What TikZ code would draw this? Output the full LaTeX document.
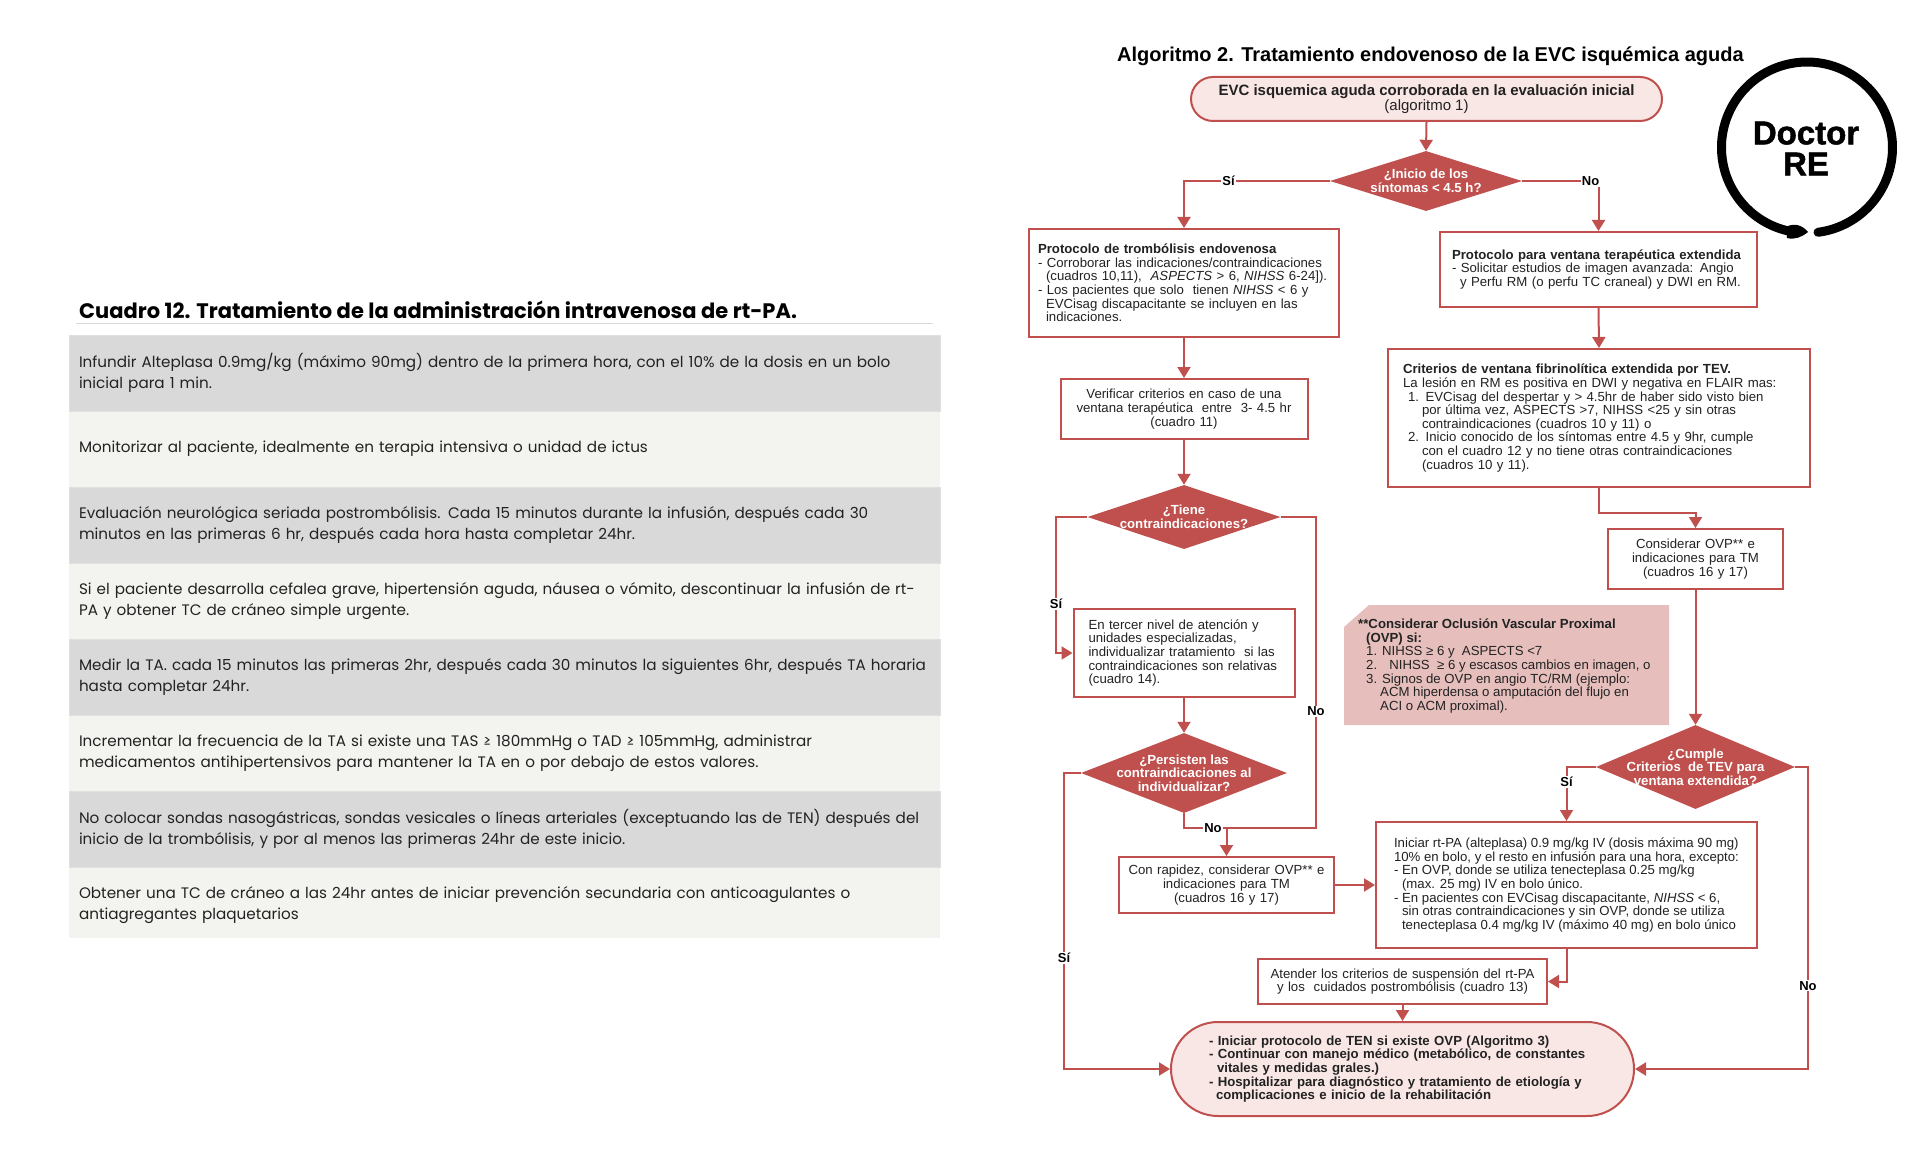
\documentclass[tikz,border=0pt]{standalone}
\usepackage{fontspec}
\setmainfont{Liberation Sans}
\newfontfamily\panelfont{Poppins}
\usetikzlibrary{arrows.meta, shapes.geometric}
\definecolor{brick}{HTML}{C0504D}
\definecolor{blush}{HTML}{F9E7E5}
\definecolor{notepink}{HTML}{E6BFBD}
\definecolor{rowdark}{HTML}{D9D9D9}
\definecolor{rowlight}{HTML}{F3F3EF}
\definecolor{inkgray}{HTML}{222222}
\tikzset{
	stepbox/.style={shape=rectangle, draw=brick, line width=2pt, fill=white, text=inkgray, align=left, inner ysep=0pt, inner xsep=12pt, font=\fontsize{13.2}{13.6}\selectfont},
	terminal/.style={stepbox, fill=blush},
	decision/.style={shape=diamond, fill=brick, inner sep=0pt},
	dectext/.style={anchor=center, align=center, inner sep=0pt, text=white, font=\bfseries\fontsize{13.2}{13.6}\selectfont},
	flow/.style={draw=brick, line width=2pt, -{Triangle[length=11pt, width=13pt]}},
	wire/.style={draw=brick, line width=2pt},
	tag/.style={fill=white, inner sep=1pt, font=\bfseries\fontsize{13}{13.6}\selectfont},
	rowbase/.style={shape=rectangle, minimum width=871pt, minimum height=76pt, inner ysep=0pt, inner xsep=10pt, text width=851pt, align=left, text=inkgray, font=\panelfont\fontsize{15.2}{21}\selectfont},
	graycell/.style={rowbase, fill=rowdark, draw=black!12, line width=.5pt},
	palecell/.style={rowbase, fill=rowlight},
	rowtext/.style={anchor=center, inner sep=0pt, text width=851pt, align=left, text=inkgray, font=\panelfont\fontsize{15.2}{21}\selectfont}
}
\begin{document}
\begin{tikzpicture}[x=1pt, y=-1pt]
	\useasboundingbox (0, 0) rectangle (1920, 1166);
	% Table on the left:
	\node[anchor=west, inner sep=0pt, text=black, font=\panelfont\bfseries\fontsize{21}{24}\selectfont] (paneltitle) at (79, 310){Cuadro 12. Tratamiento de la administración intravenosa de rt-PA.};
	\draw[line width=1pt, draw=black!15] (76, 324) -- (933, 324);
	\node[palecell] (row2) at (504.5, 449){Monitorizar al paciente, idealmente en terapia intensiva o unidad de ictus};
	\node[palecell] (row4) at (504.5, 601){Si el paciente desarrolla cefalea grave, hipertensión aguda, náusea o vómito, descontinuar la infusión de rt-\\PA y obtener TC de cráneo simple urgente.};
	\node[palecell] (row6) at (504.5, 753){Incrementar la frecuencia de la TA si existe una TAS ≥ 180mmHg o TAD ≥ 105mmHg, administrar\\medicamentos antihipertensivos para mantener la TA en o por debajo de estos valores.};
	\node[palecell, minimum height=71pt] (row8) at (504.5, 902.5){} node[rowtext] (row8txt) at (504.5, 905.5){Obtener una TC de cráneo a las 24hr antes de iniciar prevención secundaria con anticoagulantes o\\antiagregantes plaquetarios};
	\node[graycell] (row1) at (504.5, 373){Infundir Alteplasa 0.9mg/kg (máximo 90mg) dentro de la primera hora, con el 10\% de la dosis en un bolo\\inicial para 1 min.};
	\node[graycell] (row3) at (504.5, 525){Evaluación neurológica seriada postrombólisis. Cada 15 minutos durante la infusión, después cada 30\\minutos en las primeras 6 hr, después cada hora hasta completar 24hr.};
	\node[graycell] (row5) at (504.5, 677){Medir la TA. cada 15 minutos las primeras 2hr, después cada 30 minutos la siguientes 6hr, después TA horaria\\hasta completar 24hr.};
	\node[graycell] (row7) at (504.5, 829){No colocar sondas nasogástricas, sondas vesicales o líneas arteriales (exceptuando las de TEN) después del\\inicio de la trombólisis, y por al menos las primeras 24hr de este inicio.};
	% Logo:
	\draw[line width=9pt, line cap=round, draw=black] (1818, 232.3) arc[start angle=82.6, delta angle=-341.6, radius=85.5];
	\fill[black] (1786, 227) .. controls (1795, 222) and (1803, 226) .. (1808, 232) .. controls (1802, 237) and (1795, 240) .. (1787, 238) -- cycle;
	\node[inner sep=0pt, align=center, font=\bfseries\fontsize{33}{31}\selectfont\addfontfeature{FakeBold=1.5}] (logotext) at (1806, 148.5){Doctor\\RE};
	% Flow chart, nodes:
	\node[anchor=west, inner sep=0pt, font=\bfseries\fontsize{20}{22}\selectfont] (charttitle) at (1117, 56){Algoritmo 2. Tratamiento endovenoso de la EVC isquémica aguda};
	\node[terminal, rounded corners=22pt, minimum width=471pt, minimum height=44pt, align=center, font=\fontsize{15}{15}\selectfont] (start) at (1426.5, 99){\textbf{EVC isquemica aguda corroborada en la evaluación inicial}\\(algoritmo 1)};
	\node[decision, minimum width=192pt, minimum height=60pt] (dec1) at (1426, 181){} node[dectext] (dec1txt) at (1426, 181){¿Inicio de los\\síntomas < 4.5 h?};
	\node[stepbox, inner xsep=9pt, text width=292pt, minimum height=108pt] (box1) at (1184, 283){\textbf{Protocolo de trombólisis endovenosa}\\- Corroborar las indicaciones/contraindicaciones\\\hspace*{8pt}(cuadros 10,11), \ \textit{ASPECTS} > 6, \textit{NIHSS} 6-24]).\\- Los pacientes que solo \ tienen \textit{NIHSS} < 6 y\\\hspace*{8pt}EVCisag discapacitante se incluyen en las\\\hspace*{8pt}indicaciones.};
	\node[stepbox, text width=293pt, minimum height=75pt] (box2) at (1598.5, 269.5){\textbf{Protocolo para ventana terapéutica extendida}\\- Solicitar estudios de imagen avanzada: Angio\\\hspace*{8pt}y Perfu RM (o perfu TC craneal) y DWI en RM.};
	\node[stepbox, inner xsep=15pt, text width=392pt, minimum height=138pt] (box3) at (1599, 418){\textbf{Criterios de ventana fibrinolítica extendida por TEV.}\\La lesión en RM es positiva en DWI y negativa en FLAIR mas:\\\hspace*{5pt}1. EVCisag del despertar y > 4.5hr de haber sido visto bien\\\hspace*{19pt}por última vez, ASPECTS >7, NIHSS <25 y sin otras\\\hspace*{19pt}contraindicaciones (cuadros 10 y 11) o\\\hspace*{5pt}2. Inicio conocido de los síntomas entre 4.5 y 9hr, cumple\\\hspace*{19pt}con el cuadro 12 y no tiene otras contraindicaciones\\\hspace*{19pt}(cuadros 10 y 11).};
	\node[stepbox, inner xsep=5pt, text width=165pt, minimum height=60pt, align=center] (box4) at (1695.5, 559){Considerar OVP** e\\indicaciones para TM\\(cuadros 16 y 17)};
	\node[stepbox, inner xsep=5pt, text width=237pt, minimum height=60pt, align=center] (box5) at (1184, 409){Verificar criterios en caso de una\\ventana terapéutica \ entre \ 3- 4.5 hr\\(cuadro 11)};
	\node[decision, minimum width=193pt, minimum height=64pt] (dec2) at (1184, 517){} node[dectext] (dec2txt) at (1184, 517){¿Tiene\\contraindicaciones?};
	\node[stepbox, inner xsep=15pt, text width=191pt, minimum height=88pt] (box6) at (1184, 653){En tercer nivel de atención y\\unidades especializadas,\\individualizar tratamiento \ si las\\contraindicaciones son relativas\\(cuadro 14).};
	\fill[notepink] (1369, 605) -- (1669, 605) -- (1669, 725) -- (1344, 725) -- (1344, 627) -- cycle;
	\node[anchor=west, align=left, inner sep=0pt, text=inkgray, font=\fontsize{13.2}{13.6}\selectfont] (notetxt) at (1358, 666){\textbf{**Considerar Oclusión Vascular Proximal}\\\hspace*{8pt}\textbf{(OVP) si:}\\\hspace*{8pt}1. NIHSS ≥ 6 y \ ASPECTS <7\\\hspace*{8pt}2. \ \ NIHSS \ ≥ 6 y escasos cambios en imagen, o\\\hspace*{8pt}3. Signos de OVP en angio TC/RM (ejemplo:\\\hspace*{22pt}ACM hiperdensa o amputación del flujo en\\\hspace*{22pt}ACI o ACM proximal).};
	\node[decision, minimum width=206pt, minimum height=80pt] (dec3) at (1184, 773){} node[dectext] (dec3txt) at (1184, 773){¿Persisten las\\contraindicaciones al\\individualizar?};
	\node[decision, minimum width=199pt, minimum height=84pt] (dec4) at (1695.5, 767){} node[dectext] (dec4txt) at (1695.5, 767){¿Cumple\\Criterios \ de TEV para\\ventana extendida?};
	\node[stepbox, inner xsep=5pt, text width=205pt, minimum height=56pt, align=center] (box7) at (1226.5, 885){Con rapidez, considerar OVP** e\\indicaciones para TM\\(cuadros 16 y 17)};
	\node[stepbox, inner xsep=5pt, minimum width=381pt, minimum height=126pt] (box8) at (1566.5, 885){Iniciar rt-PA (alteplasa) 0.9 mg/kg IV (dosis máxima 90 mg)\\10\% en bolo, y el resto en infusión para una hora, excepto:\\- En OVP, donde se utiliza tenecteplasa 0.25 mg/kg\\\hspace*{8pt}(max. 25 mg) IV en bolo único.\\- En pacientes con EVCisag discapacitante, \textit{NIHSS} < 6,\\\hspace*{8pt}sin otras contraindicaciones y sin OVP, donde se utiliza\\\hspace*{8pt}tenecteplasa 0.4 mg/kg IV (máximo 40 mg) en bolo único};
	\node[stepbox, inner xsep=5pt, text width=279pt, minimum height=45pt, align=center] (box9) at (1402.5, 981.5){Atender los criterios de suspensión del rt-PA\\y los \ cuidados postrombólisis (cuadro 13)};
	\node[terminal, rounded corners=47pt, inner xsep=38pt, text width=387pt, minimum height=94pt] (finish) at (1402.5, 1069){\textbf{- Iniciar protocolo de TEN si existe OVP (Algoritmo 3)}\\\textbf{- Continuar con manejo médico (metabólico, de constantes}\\\hspace*{8pt}\textbf{vitales y medidas grales.)}\\\textbf{- Hospitalizar para diagnóstico y tratamiento de etiología y}\\\hspace*{7pt}\textbf{complicaciones e inicio de la rehabilitación}};
	% Bends:
	\coordinate (bendA) at (1056, 517);
	\coordinate (bendB) at (1316, 517);
	\coordinate (bendC) at (1316, 828);
	\coordinate (bendD) at (1226.5, 828);
	\coordinate (bendE) at (1184, 828);
	\coordinate (bendF) at (1064, 773);
	\coordinate (bendG) at (1064, 1069);
	\coordinate (bendH) at (1808, 767);
	\coordinate (bendI) at (1808, 1069);
	\coordinate (bendJ) at (1650, 513);
	% Wires:
	\draw[flow] (start.south) -- (dec1.north);
	\draw[flow] (dec1.west) -| node[tag, pos=.347] (tagSi1) {Sí} (box1.north);
	\draw[flow] (dec1.east) -| node[tag, pos=.448] (tagNo1) {No} (box2.north);
	\draw[flow] (box2.south) -- (box3.north);
	\draw[flow] (box3.south) |- (bendJ) -| (box4.north);
	\draw[flow] (box1.south) -- (box5.north);
	\draw[flow] (box5.south) -- (dec2.north);
	\draw[flow] (dec2.west) -- (bendA) |- node[tag, pos=.32] (tagSi2) {Sí} (box6.west);
	\draw[flow] (box6.south) -- (dec3.north);
	\draw[wire] (dec2.east) -- (bendB) -- node[tag, pos=.624] (tagNo2) {No} (bendC) -- (bendD);
	\draw[wire] (dec3.south) -- (bendE) -- (bendD);
	\draw[flow] (bendD) -- (box7.north);
	\node[tag] (tagNo3) at (1213, 828){No};
	\draw[flow] (dec3.west) -- (bendF) -- node[tag, pos=.625] (tagSi3) {Sí} (bendG) -- (finish.west);
	\draw[flow] (box7.east) -- (box8.west);
	\draw[flow] (box4.south) -- (dec4.north);
	\draw[flow] (dec4.west) -| node[tag, pos=.636] (tagSi4) {Sí} (box8.north);
	\draw[flow] (dec4.east) -- (bendH) -- node[tag, pos=.725] (tagNo4) {No} (bendI) -- (finish.east);
	\draw[flow] (box8.south) |- (box9.east);
	\draw[flow] (box9.south) -- (finish.north);
\end{tikzpicture}
\end{document}
